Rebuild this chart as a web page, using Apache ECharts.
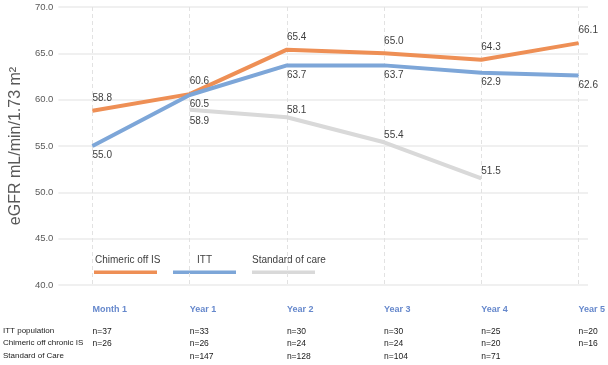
<!DOCTYPE html>
<html>
<head>
<meta charset="utf-8">
<script src="https://cdn.jsdelivr.net/npm/echarts@6/dist/echarts.min.js"></script>
<style>html,body{margin:0;padding:0;background:#fff;}#c{width:608px;height:365px;}</style>
</head>
<body>
<div id="c"></div>
<script>
const categories = ['Month 1', 'Year 1', 'Year 2', 'Year 3', 'Year 4', 'Year 5'];
const seriesNames = ['Chimeric off IS', 'ITT', 'Standard of care'];
const chimericOffIS = [58.8, 60.6, 65.4, 65.0, 64.3, 66.1];
const itt = [55.0, 60.5, 63.7, 63.7, 62.9, 62.6];
const standardOfCare = [null, 58.9, 58.1, 55.4, 51.5, null];
const rowLabels = ['ITT population', 'Chimeric off chronic IS', 'Standard of Care'];
const nITT = ['n=37', 'n=33', 'n=30', 'n=30', 'n=25', 'n=20'];
const nChimeric = ['n=26', 'n=26', 'n=24', 'n=24', 'n=20', 'n=16'];
const nSOC = ['', 'n=147', 'n=128', 'n=104', 'n=71', ''];
const yMin = 40, yMax = 70, yStep = 5;
const yTitle = 'eGFR mL/min/1.73 m²';

const FONT = 'Liberation Sans';
const COLORS = ['#EE8F55', '#7DA6D8', '#D9D9D9'];
const chart = echarts.init(document.getElementById('c'), null, {renderer: 'canvas'});

function lbl(pos, dist) {
  return {show: true, position: pos, distance: dist, align: 'left', color: '#404040',
          fontSize: 10, fontFamily: FONT, formatter: p => p.value.toFixed(1)};
}
function rowAxis(values, offset) {
  return {
    type: 'category', gridIndex: 1, position: 'bottom', offset: offset, data: categories,
    boundaryGap: false, axisLine: {show: false}, axisTick: {show: false}, splitLine: {show: false},
    axisLabel: {show: true, interval: 0, margin: 20, align: 'left', fontSize: 8.5,
      color: '#1a1a1a', fontFamily: FONT, formatter: (v, i) => values[i]}
  };
}

const sovData = standardOfCare.map((v, i) => v === null ? null : {
  value: v, label: i === 1 ? lbl('bottom', 6) : lbl('top', 2)
});

const option = {
  animation: false,
  textStyle: {fontFamily: FONT},
  grid: [
    {left: 56, right: 20, top: 7, bottom: 80},
    {left: 92.5, right: 26.5, top: 7, bottom: 80}
  ],
  xAxis: [
    {type: 'value', gridIndex: 0, min: 0, max: 1, show: false},
    {
      type: 'category', gridIndex: 1, data: categories, boundaryGap: false,
      axisLine: {show: false}, axisTick: {show: false},
      splitLine: {show: true, lineStyle: {type: [4, 3], color: '#E2E2E2', width: 1}},
      axisLabel: {interval: 0, margin: 20, align: 'left', fontSize: 9, fontWeight: 'bold',
        color: '#6688CC', fontFamily: FONT}
    },
    rowAxis(nITT, 22),
    rowAxis(nChimeric, 34.5),
    rowAxis(nSOC, 47)
  ],
  yAxis: [
    {
      type: 'value', gridIndex: 0, min: yMin, max: yMax, interval: yStep,
      axisLine: {show: false}, axisTick: {show: false},
      axisLabel: {formatter: v => v.toFixed(1), color: '#595959', fontSize: 9.5, margin: 5, fontFamily: FONT},
      splitLine: {show: true, lineStyle: {color: '#EBEBEB', width: 1.5}},
      name: yTitle, nameLocation: 'middle', nameGap: 33,
      nameTextStyle: {fontSize: 16, color: '#595959', fontFamily: FONT}
    },
    {type: 'value', gridIndex: 1, min: yMin, max: yMax, interval: yStep, show: false}
  ],
  series: [
    {
      name: seriesNames[0], type: 'line', xAxisIndex: 1, yAxisIndex: 1, data: chimericOffIS,
      symbol: 'circle', symbolSize: 1, itemStyle: {color: COLORS[0]},
      lineStyle: {width: 4, color: COLORS[0]}, label: lbl('top', 7), z: 3
    },
    {
      name: seriesNames[1], type: 'line', xAxisIndex: 1, yAxisIndex: 1, data: itt,
      symbol: 'circle', symbolSize: 1, itemStyle: {color: COLORS[1]},
      lineStyle: {width: 4, color: COLORS[1]}, label: lbl('bottom', 4), z: 3
    },
    {
      name: seriesNames[2], type: 'line', xAxisIndex: 1, yAxisIndex: 1, data: sovData,
      symbol: 'circle', symbolSize: 1, itemStyle: {color: COLORS[2]},
      lineStyle: {width: 4, color: COLORS[2]}, z: 2
    }
  ],
  graphic: [
    {type: 'text', left: 95, top: 255, style: {text: seriesNames[0], fontSize: 10, fill: '#404040', fontFamily: FONT}},
    {type: 'rect', shape: {x: 94, y: 270.5, width: 63, height: 3.5}, style: {fill: COLORS[0]}},
    {type: 'text', left: 197, top: 255, style: {text: seriesNames[1], fontSize: 10, fill: '#404040', fontFamily: FONT}},
    {type: 'rect', shape: {x: 173, y: 270.5, width: 63, height: 3.5}, style: {fill: COLORS[1]}},
    {type: 'text', left: 252, top: 255, style: {text: seriesNames[2], fontSize: 10, fill: '#404040', fontFamily: FONT}},
    {type: 'rect', shape: {x: 252, y: 270.5, width: 63, height: 3.5}, style: {fill: COLORS[2]}},
    {type: 'text', left: 3, top: 326.5, style: {text: rowLabels[0], fontSize: 8, fill: '#1a1a1a', fontFamily: FONT}},
    {type: 'text', left: 3, top: 339, style: {text: rowLabels[1], fontSize: 8, fill: '#1a1a1a', fontFamily: FONT}},
    {type: 'text', left: 3, top: 351.5, style: {text: rowLabels[2], fontSize: 8, fill: '#1a1a1a', fontFamily: FONT}}
  ]
};
chart.setOption(option);
</script>
</body>
</html>
